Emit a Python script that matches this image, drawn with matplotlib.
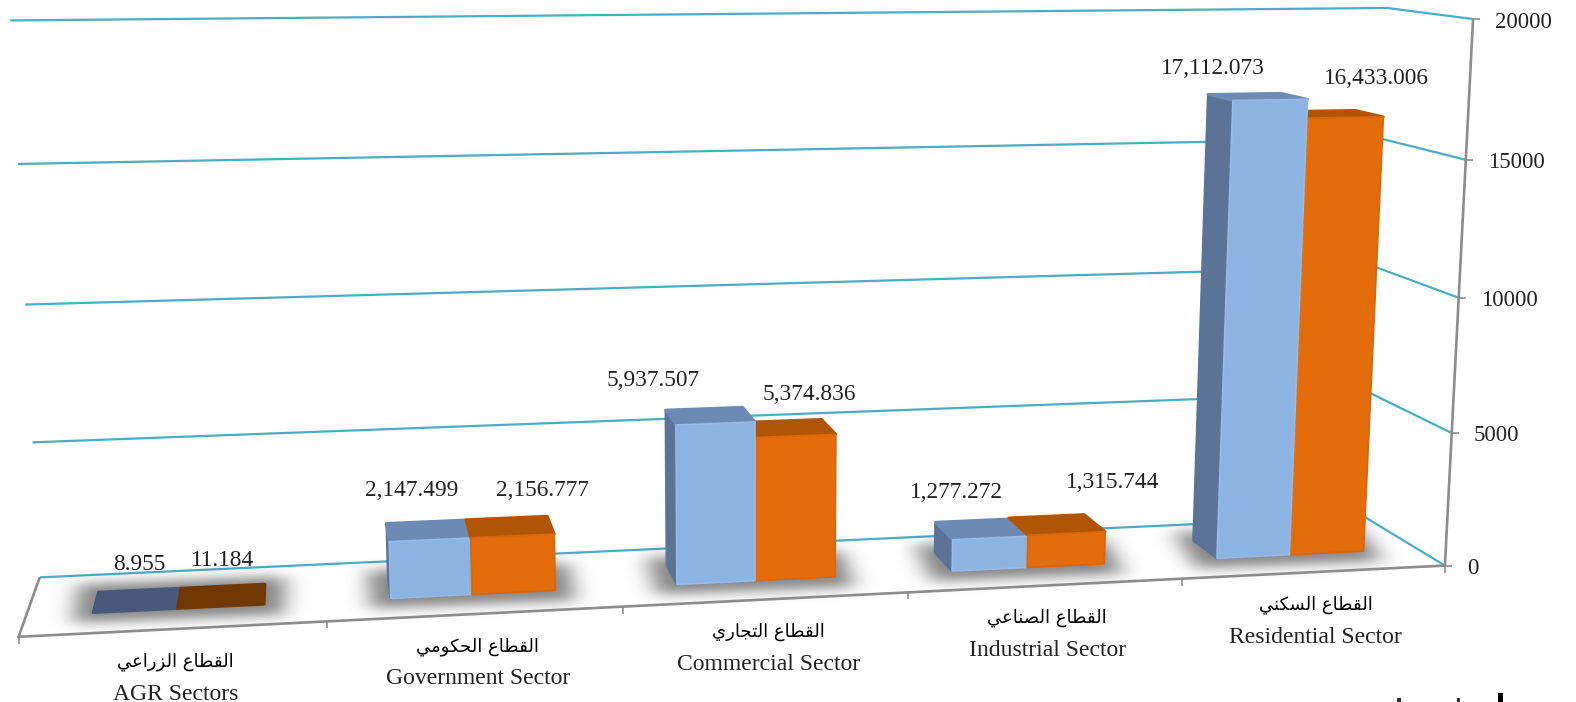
import matplotlib
matplotlib.use('Agg')
import matplotlib.pyplot as plt
from matplotlib.path import Path
from matplotlib.patches import Polygon, Rectangle
import numpy as np

# Data
labels_ar = ['القطاع الزراعي', 'القطاع الحكومي', 'القطاع التجاري', 'القطاع الصناعي', 'القطاع السكني']
labels_en = ['AGR Sectors', 'Government Sector', 'Commercial Sector', 'Industrial Sector', 'Residential Sector']
series_blue = [8.955, 2147.499, 5937.507, 1277.272, 17112.073]
series_orange = [11.184, 2156.777, 5374.836, 1315.744, 16433.006]
y_ticks = [0, 5000, 10000, 15000, 20000]

# Layout: where the value labels sit, in figure pixels
blue_label_xy = [(139, 565), (412, 490), (653, 381), (956, 492), (1213, 68)]
orange_label_xy = [(223, 561), (543, 490), (809, 394), (1113, 482), (1376, 79)]

W, H = 1576, 702
SERIF = 'Liberation Serif'
CYAN = '#4BACC6'
GRAY = '#8C8C8C'

# Pairs (category, depth, value) -> pixel, used to fit the 3D camera of the chart
world_ref = [(0, 0, 0), (1, 0, 0), (2, 0, 0), (3, 0, 0), (4, 0, 0), (5, 0, 0),
             (5, 0, 5000), (5, 0, 10000), (5, 0, 15000), (5, 0, 20000),
             (5, 1, 0), (5, 1, 20000),
             (0, 1, 0), (0, 1, 5000), (0, 1, 10000), (0, 1, 15000), (0, 1, 20000)]
pixel_ref = [(18, 635), (329, 622), (623, 609), (908, 593), (1181, 580), (1444, 565),
             (1452, 432), (1460, 297), (1465, 159), (1473, 19),
             (1364, 516), (1387, 9),
             (40, 577), (32, 442), (25, 304), (18, 164), (10, 21)]


def fit_camera(world, pixel):
    rows = []
    for (u, d, v), (x, y) in zip(world, pixel):
        v = v / 20000
        p = [u, d, v, 1]
        rows.append(p + [0, 0, 0, 0] + [-x * a for a in p])
        rows.append([0, 0, 0, 0] + p + [-y * a for a in p])
    return np.linalg.svd(np.array(rows, dtype=float))[2][-1].reshape(3, 4)


CAM = fit_camera(world_ref, pixel_ref)


def project(u, d, v):
    q = CAM @ np.array([u, d, v / 20000, 1.0])
    return q[0] / q[2], q[1] / q[2]


# matplotlib has no Arabic shaping, so pick the presentation forms by hand
FORMS = {
    'ق': 'ﻕﻖﻗﻘ', 'ط': 'ﻁﻂﻃﻄ', 'ع': 'ﻉﻊﻋﻌ', 'ل': 'ﻝﻞﻟﻠ', 'ي': 'ﻱﻲﻳﻴ',
    'ح': 'ﺡﺢﺣﺤ', 'ك': 'ﻙﻚﻛﻜ', 'م': 'ﻡﻢﻣﻤ', 'ت': 'ﺕﺖﺗﺘ', 'ج': 'ﺝﺞﺟﺠ',
    'ص': 'ﺹﺺﺻﺼ', 'ن': 'ﻥﻦﻧﻨ', 'س': 'ﺱﺲﺳﺴ',
    'ا': 'ﺍﺎ', 'ز': 'ﺯﺰ', 'ر': 'ﺭﺮ', 'و': 'ﻭﻮ',
}


def shape(text):
    out = []
    for word in text.split(' '):
        res = ''
        for i, c in enumerate(word):
            prev_joins = i > 0 and len(FORMS[word[i - 1]]) == 4
            next_joins = i < len(word) - 1 and len(FORMS[c]) == 4
            form = FORMS[c]
            if prev_joins and next_joins:
                res += form[3]
            elif prev_joins:
                res += form[1]
            elif next_joins:
                res += form[2]
            else:
                res += form[0]
        out.append(res)
    return ' '.join(out)[::-1]


fig = plt.figure(figsize=(W / 100, H / 100), dpi=100)
ax = fig.add_axes([0, 0, 1, 1])
ax.set_xlim(0, W)
ax.set_ylim(H, 0)
ax.axis('off')


def line(points, color, lw, z=1):
    xs, ys = zip(*points)
    ax.plot(xs, ys, color=color, lw=lw, zorder=z, solid_capstyle='butt', solid_joinstyle='miter')


# Gridlines on the back wall and the right wall
for t in y_ticks:
    line([project(0, 1, t), project(5, 1, t), project(5, 0, t)], CYAN, 1.6)

# Floor edges and axes
line([project(0, 1, 0), project(0, 0, 0), project(5, 0, 0)], GRAY, 1.9, z=3)
line([project(5, 0, 0), project(5, 0, 20000)], GRAY, 1.9)
for i in range(6):
    x, y = project(i, 0, 0)
    line([(x, y), (x, y + 7)], GRAY, 1.2)
for t in y_ticks:
    x, y = project(5, 0, t)
    line([(x, y), (x + 7, y)], GRAY, 1.2)
    ax.text(x + 22, y + 3, str(t), family=SERIF, fontsize=16.5, ha='left', va='center', color='#222222')

# Bars
BAR_L, BAR_R = 0.28, 0.29
D0, D1 = 0.33, 0.68
BEVEL = 2.5


def soft_shadow(poly):
    # grow the footprint a bit, then blur it wider than it is tall
    poly = np.array(poly)
    cx, cy = poly.mean(axis=0)
    poly = poly + np.c_[np.sign(poly[:, 0] - cx) * 20, np.where(poly[:, 1] > cy, 10, -8)]
    x0, y0 = (poly.min(axis=0) - 45).astype(int)
    x1, y1 = (poly.max(axis=0) + 45).astype(int)
    gx, gy = np.meshgrid(np.arange(x0, x1), np.arange(y0, y1))
    mask = Path(poly).contains_points(np.c_[gx.ravel() + 0.5, gy.ravel() + 0.5]).reshape(gx.shape).astype(float)
    for sigma, axis in [(11, 1), (6, 0)]:
        k = np.exp(-0.5 * (np.arange(-40, 41) / sigma) ** 2)
        k /= k.sum()
        mask = np.apply_along_axis(lambda m: np.convolve(m, k, mode='same'), axis, mask)
    rgba = np.zeros(mask.shape + (4,))
    rgba[..., :3] = 0.2
    rgba[..., 3] = mask * 0.6
    ax.imshow(rgba, extent=(x0, x1, y1, y0), aspect='auto', zorder=2, interpolation='bilinear')
    ax.set_xlim(0, W)
    ax.set_ylim(H, 0)


def face(pts, color, edge, z, lw=1.0):
    ax.add_patch(Polygon(pts, closed=True, facecolor=color, edgecolor=edge, lw=lw, joinstyle='round', zorder=z))


def lowered(pt):
    return pt[0], pt[1] + BEVEL


def draw_bar(u0, u1, value, front, top, edge, z):
    bl = project(u0, D0, 0)
    br = project(u1, D0, 0)
    tl = project(u0, D0, value)
    tr = project(u1, D0, value)
    bl2 = project(u0, D1, value)
    br2 = project(u1, D1, value)
    if value > 100:
        tl, tr, bl2, br2 = lowered(tl), lowered(tr), lowered(bl2), lowered(br2)
    face([tl, tr, br2, bl2], top, top, z, lw=2.0)
    if value > 100:
        face([bl, br, tr, tl], front, edge, z + 0.1, lw=1.2)


for i in range(5):
    c = i + 0.5
    footprint = [project(c - BAR_L, D0, 0), project(c + BAR_R, D0, 0),
                 project(c + BAR_R, D1, 0), project(c - BAR_L, D1, 0)]
    soft_shadow(footprint)

    z = 4 + i
    low = series_blue[i] < 100
    blue_top = '#46597A' if low else '#6C8AB4'
    orange_top = '#713700' if low else '#B05504'

    # left side of the blue bar
    if not low:
        face([project(c - BAR_L, D0, 0), lowered(project(c - BAR_L, D0, series_blue[i])),
              lowered(project(c - BAR_L, D1, series_blue[i])), project(c - BAR_L, D1, 0)], '#5A7396', '#5A7396', z, lw=1.6)

    bars = [(series_blue[i], c - BAR_L, c, '#8CB4E3', blue_top, '#96BBE8'),
            (series_orange[i], c, c + BAR_R, '#E46C0A', orange_top, '#D8660A')]
    bars.sort(key=lambda b: b[0])
    for k, (val, u0, u1, col_front, col_top, col_edge) in enumerate(bars):
        draw_bar(u0, u1, val, col_front, col_top, col_edge, z + 0.2 * (k + 1))

    # value labels
    ax.text(*blue_label_xy[i], f'{series_blue[i]:,.3f}', family=SERIF, fontsize=16.8, ha='center', va='center', color='#222222', zorder=20)
    ax.text(*orange_label_xy[i], f'{series_orange[i]:,.3f}', family=SERIF, fontsize=16.8, ha='center', va='center', color='#222222', zorder=20)

    # category labels
    x, y = project(c, 0, 0)
    ax.text(x + 1, y + 32.5, shape(labels_ar[i]), family='DejaVu Sans', fontsize=13, ha='center', va='center', color='black', zorder=20)
    ax.text(x + 1, y + 65, labels_en[i], family=SERIF, fontsize=17, ha='center', va='center', color='#222222', zorder=20)

# Cut-off text at the bottom edge of the crop
ax.add_patch(Rectangle((1498, 693), 5, 9, color='black', lw=0))
ax.add_patch(Rectangle((1397, 698), 4, 4, color='#333333', lw=0))
ax.add_patch(Rectangle((1457, 698), 3, 4, color='#333333', lw=0))

plt.savefig('out.png', dpi=100)
